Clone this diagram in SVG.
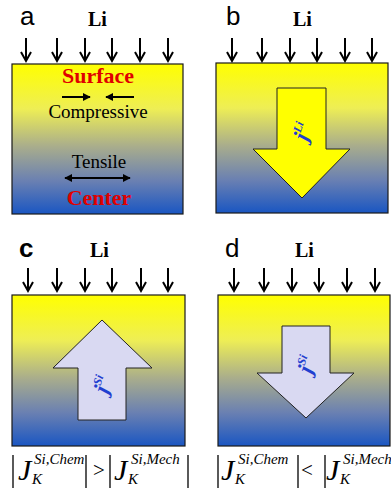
<svg xmlns="http://www.w3.org/2000/svg" width="391" height="492" viewBox="0 0 391 492">
<defs>
<linearGradient id="grad" x1="0" y1="0" x2="0" y2="1">
<stop offset="0" stop-color="#ffff00"/>
<stop offset="0.3" stop-color="#eeee55"/>
<stop offset="0.55" stop-color="#a9ad8c"/>
<stop offset="0.78" stop-color="#6a80b2"/>
<stop offset="1" stop-color="#1a56c2"/>
</linearGradient>
<marker id="ah" viewBox="0 0 10 10" refX="9" refY="5" markerWidth="4" markerHeight="4" orient="auto-start-reverse" markerUnits="strokeWidth">
<path d="M0,0 L10,5 L0,10 Z" fill="#000"/>
</marker>
<path id="liarrow" d="M0,0 V23 M-5,14 L0,23 L5,14" fill="none" stroke="#000" stroke-width="2"/>
</defs>
<style>
.box{fill:url(#grad);stroke:#1a1a1a;stroke-width:1.2}
.lbl{font-family:"Liberation Sans",Arial,sans-serif;font-size:26px;fill:#000}
.li{font-family:"Liberation Serif","Times New Roman",serif;font-weight:bold;font-size:20px;fill:#000}
.red{font-family:"Liberation Serif","Times New Roman",serif;font-weight:bold;font-size:22px;fill:#e00000}
.txt{font-family:"Liberation Serif","Times New Roman",serif;font-size:19px;fill:#000}
.flux{font-family:"Liberation Serif","Times New Roman",serif;font-weight:bold;font-style:italic;fill:#1f3fd0}
.bigarrow{stroke:#222;stroke-width:1}
.fm{font-family:"Liberation Serif","Times New Roman",serif;font-style:italic;fill:#000}
.bar{stroke:#000;stroke-width:1.3}
</style>

<g id="panel-a">
<rect class="box" x="12" y="64" width="171" height="150"/>
<text class="lbl" x="20" y="25">a</text>
<text class="li" x="88" y="26">Li</text>
<use href="#liarrow" x="26" y="38"/>
<use href="#liarrow" x="57" y="38"/>
<use href="#liarrow" x="85" y="38"/>
<use href="#liarrow" x="112" y="38"/>
<use href="#liarrow" x="140" y="38"/>
<use href="#liarrow" x="168" y="38"/>
<text class="red" x="98" y="83" text-anchor="middle">Surface</text>
<text class="txt" x="98" y="118" text-anchor="middle">Compressive</text>
<text class="txt" x="99" y="168" text-anchor="middle" font-size="18">Tensile</text>
<text class="red" x="99" y="205" text-anchor="middle">Center</text>
</g>

<g id="panel-b">
<rect class="box" x="216" y="63" width="172" height="150"/>
<text class="lbl" x="226" y="25">b</text>
<text class="li" x="293" y="26">Li</text>
<use href="#liarrow" x="232" y="38"/>
<use href="#liarrow" x="262" y="38"/>
<use href="#liarrow" x="290" y="38"/>
<use href="#liarrow" x="317" y="38"/>
<use href="#liarrow" x="345" y="38"/>
<use href="#liarrow" x="372" y="38"/>
<polygon class="bigarrow" fill="#ffff00" points="277,88 326,88 326,149 350,149 302,198 253,149 277,149"/>
<text class="flux" transform="translate(304,132) rotate(-72)" text-anchor="middle" y="6"><tspan font-size="22">j</tspan><tspan font-size="12" dy="-9">Li</tspan></text>
</g>

<g id="panel-c">
<rect class="box" x="12" y="295" width="173" height="151"/>
<text class="lbl" x="19" y="257" font-weight="bold">c</text>
<text class="li" x="90" y="257">Li</text>
<use href="#liarrow" x="28" y="268"/>
<use href="#liarrow" x="57" y="268"/>
<use href="#liarrow" x="85" y="268"/>
<use href="#liarrow" x="112" y="268"/>
<use href="#liarrow" x="141" y="268"/>
<use href="#liarrow" x="168" y="268"/>
<polygon class="bigarrow" fill="#d9d9f2" points="102,320 152,368 126,368 126,420 78,420 78,368 53,368"/>
<text class="flux" transform="translate(104,385) rotate(-72)" text-anchor="middle" y="6"><tspan font-size="22">j</tspan><tspan font-size="12" dy="-9">Si</tspan></text>
</g>

<g id="panel-d">
<rect class="box" x="218" y="295" width="172" height="151"/>
<text class="lbl" x="225" y="257">d</text>
<text class="li" x="295" y="257">Li</text>
<use href="#liarrow" x="234" y="268"/>
<use href="#liarrow" x="264" y="268"/>
<use href="#liarrow" x="292" y="268"/>
<use href="#liarrow" x="319" y="268"/>
<use href="#liarrow" x="347" y="268"/>
<use href="#liarrow" x="375" y="268"/>
<polygon class="bigarrow" fill="#d9d9f2" points="282,326 330,326 330,373 354,373 306,418 257,373 282,373"/>
<text class="flux" transform="translate(308,365) rotate(-72)" text-anchor="middle" y="6"><tspan font-size="22">j</tspan><tspan font-size="12" dy="-9">Si</tspan></text>
</g>

<g id="connectors">
<line x1="62" y1="97" x2="90" y2="97" stroke="#000" stroke-width="2" marker-end="url(#ah)"/>
<line x1="134" y1="97" x2="106" y2="97" stroke="#000" stroke-width="2" marker-end="url(#ah)"/>
<line x1="65" y1="178" x2="130" y2="178" stroke="#000" stroke-width="2" marker-start="url(#ah)" marker-end="url(#ah)"/>
</g>

<g id="formula-c">
<line class="bar" x1="13" y1="455" x2="13" y2="488"/>
<text class="fm" x="18" y="480" font-size="30">J</text>
<text class="fm" x="34" y="464" font-size="15">Si,Chem</text>
<text class="fm" x="32" y="484" font-size="15">K</text>
<line class="bar" x1="86" y1="455" x2="86" y2="488"/>
<text x="93" y="477" font-family="'Liberation Serif','Times New Roman',serif" font-size="21">&gt;</text>
<line class="bar" x1="110" y1="455" x2="110" y2="488"/>
<text class="fm" x="114" y="480" font-size="30">J</text>
<text class="fm" x="131" y="464" font-size="15">Si,Mech</text>
<text class="fm" x="128" y="484" font-size="15">K</text>
<line class="bar" x1="188" y1="455" x2="188" y2="488"/>
</g>

<g id="formula-d">
<line class="bar" x1="218" y1="455" x2="218" y2="488"/>
<text class="fm" x="221" y="480" font-size="30">J</text>
<text class="fm" x="238" y="464" font-size="15">Si,Chem</text>
<text class="fm" x="235" y="484" font-size="15">K</text>
<line class="bar" x1="298" y1="455" x2="298" y2="488"/>
<text x="301" y="477" font-family="'Liberation Serif','Times New Roman',serif" font-size="21">&lt;</text>
<line class="bar" x1="325" y1="455" x2="325" y2="488"/>
<text class="fm" x="326" y="480" font-size="30">J</text>
<text class="fm" x="343" y="464" font-size="15">Si,Mech</text>
<text class="fm" x="340" y="484" font-size="15">K</text>
</g>
</svg>
